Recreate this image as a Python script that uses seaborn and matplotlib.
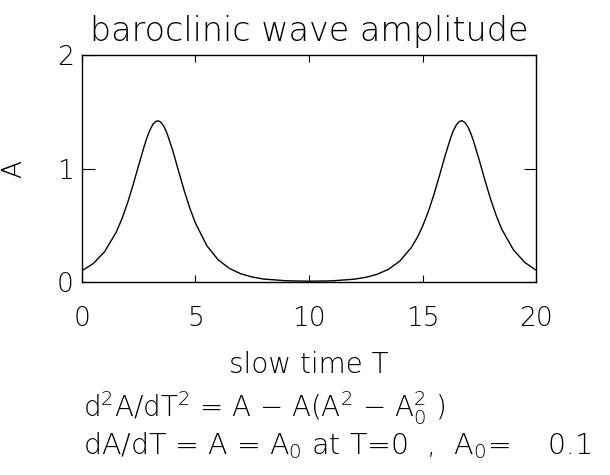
import numpy as np
import pandas as pd
import matplotlib
matplotlib.use("Agg")
import matplotlib.pyplot as plt
import seaborn as sns

slow_time = [0, 0.5, 1, 1.5, 1.75, 2, 2.25, 2.5, 2.75, 2.875, 3, 3.125,
             3.25, 3.375, 3.5, 3.625, 3.75, 4, 4.25, 4.5, 4.75, 5, 5.5, 6,
             6.5, 7, 7.5, 8, 9, 10, 11, 12, 12.5, 13, 13.5, 14, 14.5, 14.75,
             15, 15.25, 15.5, 15.75, 16, 16.25, 16.375, 16.5, 16.625, 16.75,
             16.875, 17, 17.125, 17.25, 17.5, 17.75, 18, 18.25, 18.5, 19,
             19.5, 20]
amplitude = [0.10, 0.163, 0.268, 0.436, 0.552, 0.692, 0.855, 1.031, 1.203,
             1.279, 1.342, 1.389, 1.415, 1.420, 1.403, 1.365, 1.308, 1.157,
             0.981, 0.807, 0.651, 0.518, 0.320, 0.195, 0.119, 0.072, 0.044,
             0.026, 0.011, 0.007, 0.010, 0.025, 0.041, 0.068, 0.112, 0.184,
             0.302, 0.385, 0.489, 0.617, 0.768, 0.939, 1.115, 1.277, 1.340,
             1.387, 1.414, 1.421, 1.404, 1.367, 1.311, 1.240, 1.074, 0.897,
             0.730, 0.584, 0.462, 0.285, 0.173, 0.105]

x_ticks = [0, 5, 10, 15, 20]
y_ticks = [0, 1, 2]

df = pd.DataFrame({"T": slow_time, "A": amplitude})

sns.set_style("ticks")
plt.rcParams['font.family'] = ['DejaVu Sans']
plt.rcParams['font.weight'] = 'light'
plt.rcParams['text.color'] = 'black'
plt.rcParams['axes.labelcolor'] = 'black'
plt.rcParams['axes.labelweight'] = 'light'
plt.rcParams['axes.titleweight'] = 'light'
plt.rcParams['xtick.color'] = 'black'
plt.rcParams['ytick.color'] = 'black'
plt.rcParams['mathtext.fontset'] = 'custom'
plt.rcParams['mathtext.rm'] = 'DejaVu Sans:light'
plt.rcParams['mathtext.it'] = 'DejaVu Sans:light'

fig = plt.figure(figsize=(6.1, 4.75), dpi=100)
ax = fig.add_axes([0.1344, 0.4063, 0.7443, 0.4779])

sns.lineplot(data=df, x="T", y="A", ax=ax, color="black", linewidth=1.0)

ax.set_xlim(0, 20)
ax.set_ylim(0, 2)
ax.set_xticks(x_ticks)
ax.set_yticks(y_ticks)
ax.tick_params(direction="in", top=True, right=True, labelsize=19,
               width=0.8, color="black", labelcolor="black")
ax.tick_params(axis="x", length=5, pad=17)
ax.tick_params(axis="y", length=9, pad=6)
for s in ax.spines.values():
    s.set_color("black")
    s.set_linewidth(1.0)

ax.set_xlabel("slow time T", fontsize=20, labelpad=15, fontweight="light")
ax.set_ylabel("A", fontsize=19, labelpad=22, fontweight="light")
ax.set_title("baroclinic wave amplitude", fontsize=24, pad=10,
             fontweight="light", color="black")

fig.text(0.136, 0.122, r"d$^2$A/dT$^2$ = A $-$ A(A$^2$ $-$ A$_0^2$ )",
         fontsize=20, ha="left", va="baseline", fontweight="light")
fig.text(0.136, 0.044, r"dA/dT = A = A$_0$ at T=0  ,  A$_0$=    0.1",
         fontsize=20.5, ha="left", va="baseline", fontweight="light")

fig.savefig("out.png", dpi=100)
